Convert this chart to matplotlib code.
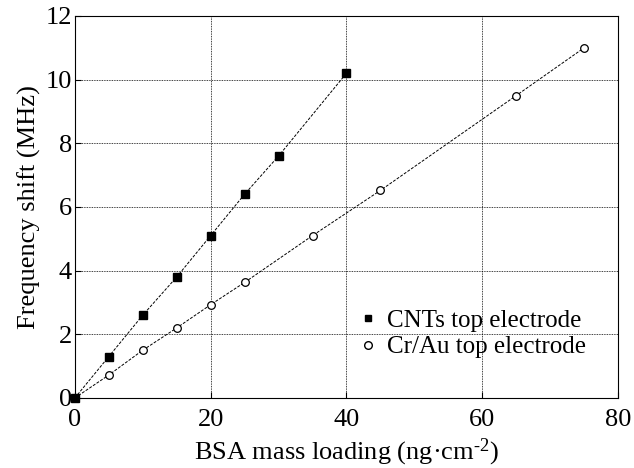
import numpy as np
import matplotlib
matplotlib.use('Agg')
import matplotlib.pyplot as plt
from matplotlib.lines import Line2D

# CNTs top electrode
x_cnt = [0, 5, 10, 15, 20, 25, 30, 40]
y_cnt = [0, 1.3, 2.6, 3.8, 5.1, 6.4, 7.6, 10.2]
# Cr/Au top electrode
x_au = [0, 5, 10, 15, 20, 25, 35, 45, 65, 75]
y_au = [0, 0.72, 1.5, 2.2, 2.93, 3.63, 5.1, 6.52, 9.5, 11.0]

xticks = [0, 20, 40, 60, 80]
yticks = [0, 2, 4, 6, 8, 10, 12]

plt.rcParams['font.family'] = ['Liberation Serif', 'DejaVu Serif']
plt.rcParams['mathtext.fontset'] = 'custom'
plt.rcParams['mathtext.rm'] = 'Liberation Serif'
plt.rcParams['mathtext.it'] = 'Liberation Serif:italic'

fig = plt.figure(figsize=(6.34, 4.68), dpi=100)
ax = fig.add_axes([0.118, 0.1496, 0.857, 0.8164])

ax.plot(x_cnt, y_cnt, color='black', lw=0.7, ls=(0, (3, 1.5)))
ax.plot(x_au, y_au, color='black', lw=0.7, ls=(0, (3, 1.5)))
ax.plot(x_au, y_au, 'o', mfc='white', mec='black', mew=0.9, ms=5.5, ls='none',
        zorder=3, clip_on=False)
ax.plot(x_cnt, y_cnt, 's', color='black', ms=6, ls='none', zorder=4, clip_on=False)

ax.set_xlim(0, 80)
ax.set_ylim(0, 12)
ax.set_xticks(xticks)
ax.set_yticks(yticks)
ax.grid(True, color='black', ls=(0, (1, 1)), lw=0.6)
ax.tick_params(direction='in', labelsize=19, length=4, width=0.8)
ax.tick_params(axis='x', pad=8)
ax.tick_params(axis='y', pad=2)
for s in ax.spines.values():
    s.set_linewidth(0.8)

ax.set_xlabel(r'BSA mass loading (ng·cm$^{\text{-2}}$)', fontsize=19, labelpad=4)
ax.set_ylabel('Frequency shift (MHz)', fontsize=19, labelpad=3)

handles = [Line2D([], [], marker='s', color='black', ls='none', ms=5),
           Line2D([], [], marker='o', mfc='white', mec='black', ls='none', ms=5.5)]
ax.legend(handles, ['CNTs top electrode', 'Cr/Au top electrode'],
          loc='lower right', bbox_to_anchor=(0.982, 0.045), frameon=False,
          fontsize=18, handlelength=0.8, handletextpad=0.36, labelspacing=0.16,
          borderpad=0.4)

fig.savefig('out.png', dpi=100)
